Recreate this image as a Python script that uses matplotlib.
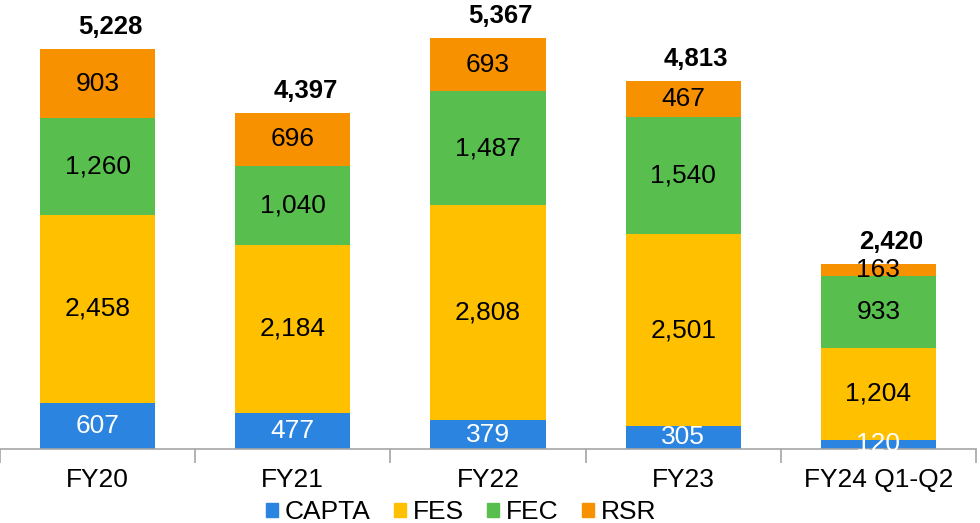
import matplotlib
matplotlib.use("Agg")
import matplotlib.pyplot as plt
import numpy as np

categories = ["FY20", "FY21", "FY22", "FY23", "FY24 Q1-Q2"]
capta = [607, 477, 379, 305, 120]
fes = [2458, 2184, 2808, 2501, 1204]
fec = [1260, 1040, 1487, 1540, 933]
rsr = [903, 696, 693, 467, 163]
totals = [5228, 4397, 5367, 4813, 2420]

series = [("CAPTA", capta, "#2A84E0", "white"),
          ("FES", fes, "#FFC000", "black"),
          ("FEC", fec, "#58BF4F", "black"),
          ("RSR", rsr, "#F79100", "black")]

plt.rcParams['font.family'] = ['Liberation Sans', 'DejaVu Sans']

fig = plt.figure(figsize=(9.8, 5.23), dpi=100)
ax = fig.add_axes([0.0, 74/523, 976/980, 449/523])

x = np.arange(len(categories))
bottom = np.zeros(len(categories))
width = 0.59
for name, vals, color, tc in series:
    vals = np.array(vals, dtype=float)
    ax.bar(x, vals, width, bottom=bottom, color=color, label=name, edgecolor='none')
    for xi, b, v in zip(x, bottom, vals):
        ax.text(xi, b + v / 2, f"{int(v):,}", ha='center', va='center',
                fontsize=19, color=tc)
    bottom += vals

for xi, t in zip(x, totals):
    ax.text(xi + 0.065, t + 130, f"{t:,}", ha='center', va='bottom',
            fontsize=18.5, fontweight='bold', color='black')

ax.set_xlim(-0.5, len(categories) - 0.5)
ax.set_ylim(0, 449 / 0.0765)
ax.set_yticks([])
for s in ['top', 'right', 'left']:
    ax.spines[s].set_visible(False)
ax.spines['bottom'].set_color('#A6A6A6')
ax.spines['bottom'].set_linewidth(1.2)
ax.set_xticks(x)
ax.set_xticklabels(categories, fontsize=19)
ax.tick_params(axis='x', which='major', length=0, pad=14)
ax.set_xticks(np.arange(-0.5, len(categories)), minor=True)
ax.tick_params(axis='x', which='minor', length=10, color='#A6A6A6', width=1.2)

handles = [plt.Rectangle((0, 0), 1, 1, color=c) for _, _, c, _ in series]
fig.legend(handles, [n for n, _, _, _ in series], loc='center',
           bbox_to_anchor=(461/980, 1 - 512/523), ncol=4, frameon=False,
           fontsize=19, handlelength=0.45, handleheight=0.45,
           handletextpad=0.25, columnspacing=0.9, borderaxespad=0)

fig.savefig("out.png", dpi=100)
